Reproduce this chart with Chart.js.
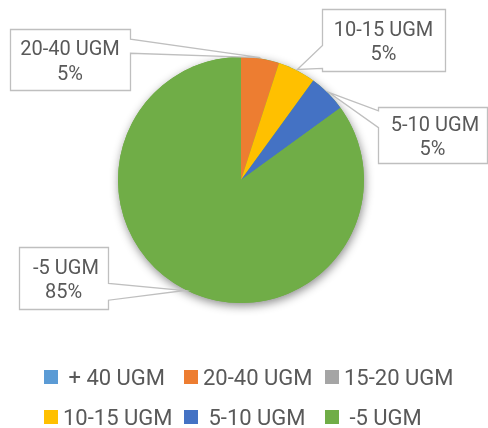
<!DOCTYPE html>
<html>
<head>
<meta charset="utf-8">
<script src="https://cdn.jsdelivr.net/npm/chart.js@4.4.1/dist/chart.umd.min.js"></script>
<style>
  html, body { margin: 0; padding: 0; background: #fff; }
  #wrap { position: relative; width: 488px; height: 428px; }
</style>
</head>
<body>
<div id="wrap"><canvas id="pie"></canvas></div>
<script>
// slice names (leading spaces as in the source sheet) and their shares in %
const categories = [' + 40 UGM', '20-40 UGM', '15-20 UGM', '10-15 UGM', ' 5-10 UGM', ' -5 UGM'];
const shares = [0, 5, 0, 5, 5, 85];
const sliceColors = ['#5B9BD5', '#ED7D31', '#A5A5A5', '#FFC000', '#4472C4', '#70AD47'];

const TEXT = '#595959';
const LINE = '#BFBFBF';
const FONT = "Roboto, 'Open Sans', sans-serif";

// callout box placement per slice (null = no label), wedge base given as fraction of the side
const callouts = [
  null,
  { x: 10, y: 29, w: 120, h: 61, side: 'right', a: 0.16, b: 0.39 },
  null,
  { x: 322, y: 9, w: 123, h: 62, side: 'left', a: 0.58, b: 0.95 },
  { x: 378, y: 107, w: 109, h: 56, side: 'left', a: 0.06, b: 0.36 },
  { x: 19, y: 247, w: 89, h: 62, side: 'right', a: 0.58, b: 0.85 },
];

// legend grid (Excel-style fixed columns)
const legendCols = [44, 184, 325];
const legendRows = [377, 417];

// soft drop shadow under the whole pie
const pieShadow = {
  id: 'pieShadow',
  beforeDatasetsDraw(chart) {
    const arc = chart.getDatasetMeta(0).data[0];
    if (!arc) return;
    const { ctx } = chart;
    ctx.save();
    ctx.shadowColor = 'rgba(0,0,0,0.45)';
    ctx.shadowBlur = 10;
    ctx.shadowOffsetX = 1;
    ctx.shadowOffsetY = 3;
    ctx.fillStyle = sliceColors[5];
    ctx.beginPath();
    ctx.arc(arc.x, arc.y, arc.outerRadius, 0, Math.PI * 2);
    ctx.fill();
    ctx.restore();
  },
};

// callout boxes with a wedge pointing at the slice edge
const calloutLabels = {
  id: 'calloutLabels',
  afterDatasetsDraw(chart) {
    const { ctx } = chart;
    const meta = chart.getDatasetMeta(0);
    meta.data.forEach((arc, i) => {
      const c = callouts[i];
      if (!c || !shares[i]) return;
      const mid = (arc.startAngle + arc.endAngle) / 2;
      const tx = arc.x + Math.cos(mid) * (arc.outerRadius + 1);
      const ty = arc.y + Math.sin(mid) * (arc.outerRadius + 1);
      const x = c.x + 0.5, y = c.y + 0.5, w = c.w, h = c.h;

      ctx.save();
      ctx.beginPath();
      ctx.moveTo(x, y);
      ctx.lineTo(x + w, y);
      if (c.side === 'right') {
        ctx.lineTo(x + w, y + c.a * h);
        ctx.lineTo(tx, ty);
        ctx.lineTo(x + w, y + c.b * h);
      }
      ctx.lineTo(x + w, y + h);
      ctx.lineTo(x, y + h);
      if (c.side === 'left') {
        ctx.lineTo(x, y + c.b * h);
        ctx.lineTo(tx, ty);
        ctx.lineTo(x, y + c.a * h);
      }
      ctx.closePath();
      ctx.fillStyle = '#fff';
      ctx.fill();
      ctx.strokeStyle = LINE;
      ctx.lineWidth = 1.3;
      ctx.stroke();

      ctx.fillStyle = TEXT;
      ctx.font = '20px ' + FONT;
      ctx.textAlign = 'center';
      ctx.textBaseline = 'alphabetic';
      const cx = c.x + c.w / 2, cy = c.y + c.h / 2;
      ctx.fillText(categories[i], cx, cy - 4.5);
      ctx.fillText(shares[i] + '%', cx, cy + 20);
      ctx.restore();
    });
  },
};

// two-row legend on a fixed grid
const gridLegend = {
  id: 'gridLegend',
  afterDraw(chart) {
    const { ctx } = chart;
    ctx.save();
    ctx.font = '22px ' + FONT;
    ctx.textAlign = 'left';
    ctx.textBaseline = 'alphabetic';
    categories.forEach((name, i) => {
      const col = legendCols[i % 3];
      const row = legendRows[Math.floor(i / 3)];
      ctx.fillStyle = sliceColors[i];
      ctx.fillRect(col, row - 7, 14, 14);
      ctx.fillStyle = TEXT;
      ctx.fillText(name, col + 19, row + 8);
    });
    ctx.restore();
  },
};

new Chart(document.getElementById('pie'), {
  type: 'pie',
  data: {
    labels: categories,
    datasets: [{
      data: shares,
      backgroundColor: sliceColors,
      borderWidth: 0,
    }],
  },
  options: {
    responsive: true,
    maintainAspectRatio: false,
    animation: false,
    layout: { padding: { left: 118, right: 124, top: 57, bottom: 125 } },
    plugins: {
      legend: { display: false },
      tooltip: { enabled: false },
    },
  },
  plugins: [pieShadow, calloutLabels, gridLegend],
});
</script>
</body>
</html>
